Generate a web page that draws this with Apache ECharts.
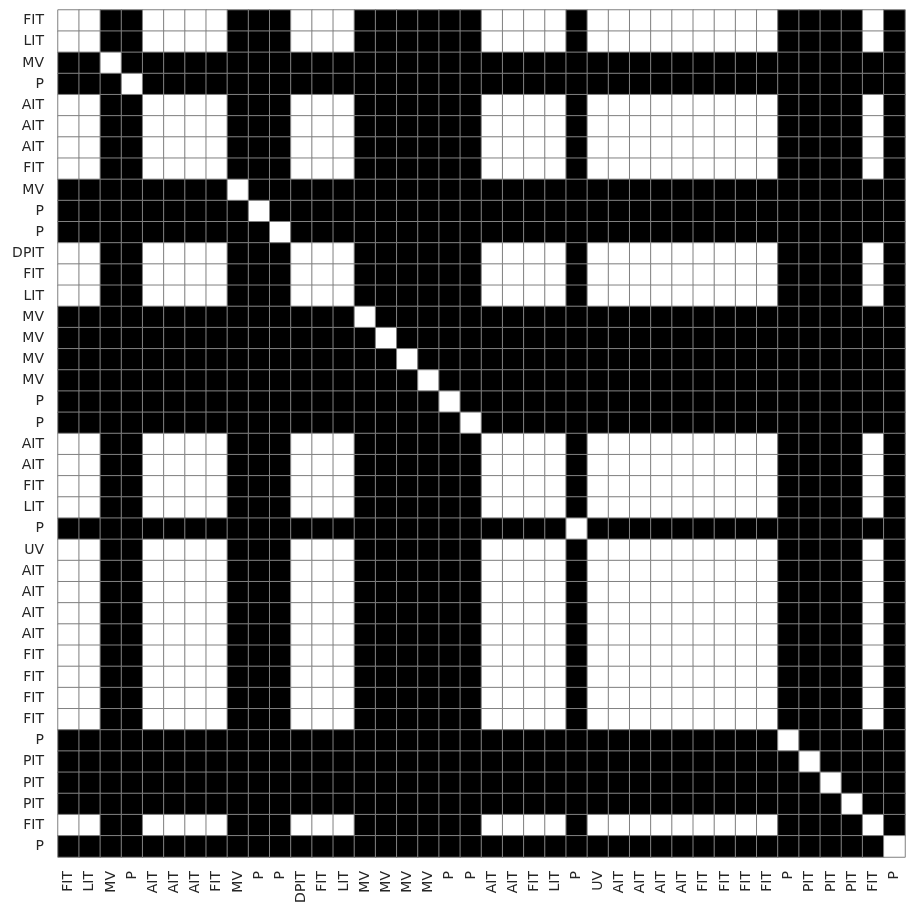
<!DOCTYPE html>
<html>
<head>
<meta charset="utf-8">
<script src="https://cdn.jsdelivr.net/npm/echarts@6/dist/echarts.min.js"></script>
<style>html,body{margin:0;padding:0;background:#fff;}#c{width:915px;height:915px;}</style>
</head>
<body>
<div id="c"></div>
<script>
const labels = ["FIT","LIT","MV","P","AIT","AIT","AIT","FIT","MV","P","P","DPIT","FIT","LIT","MV","MV","MV","MV","P","P","AIT","AIT","FIT","LIT","P","UV","AIT","AIT","AIT","AIT","FIT","FIT","FIT","FIT","P","PIT","PIT","PIT","FIT","P"];

// 1 = black cell, 0 = white cell; one string per row (top to bottom)
const matrixRows = [
"0011000011 1000111111 0000100000 0000111101",
"0011000011 1000111111 0000100000 0000111101",
"1101111111 1111111111 1111111111 1111111111",
"1110111111 1111111111 1111111111 1111111111",
"0011000011 1000111111 0000100000 0000111101",
"0011000011 1000111111 0000100000 0000111101",
"0011000011 1000111111 0000100000 0000111101",
"0011000011 1000111111 0000100000 0000111101",
"1111111101 1111111111 1111111111 1111111111",
"1111111110 1111111111 1111111111 1111111111",
"1111111111 0111111111 1111111111 1111111111",
"0011000011 1000111111 0000100000 0000111101",
"0011000011 1000111111 0000100000 0000111101",
"0011000011 1000111111 0000100000 0000111101",
"1111111111 1111011111 1111111111 1111111111",
"1111111111 1111101111 1111111111 1111111111",
"1111111111 1111110111 1111111111 1111111111",
"1111111111 1111111011 1111111111 1111111111",
"1111111111 1111111101 1111111111 1111111111",
"1111111111 1111111110 1111111111 1111111111",
"0011000011 1000111111 0000100000 0000111101",
"0011000011 1000111111 0000100000 0000111101",
"0011000011 1000111111 0000100000 0000111101",
"0011000011 1000111111 0000100000 0000111101",
"1111111111 1111111111 1111011111 1111111111",
"0011000011 1000111111 0000100000 0000111101",
"0011000011 1000111111 0000100000 0000111101",
"0011000011 1000111111 0000100000 0000111101",
"0011000011 1000111111 0000100000 0000111101",
"0011000011 1000111111 0000100000 0000111101",
"0011000011 1000111111 0000100000 0000111101",
"0011000011 1000111111 0000100000 0000111101",
"0011000011 1000111111 0000100000 0000111101",
"0011000011 1000111111 0000100000 0000111101",
"1111111111 1111111111 1111111111 1111011111",
"1111111111 1111111111 1111111111 1111101111",
"1111111111 1111111111 1111111111 1111110111",
"1111111111 1111111111 1111111111 1111111011",
"0011000011 1000111111 0000100000 0000111101",
"1111111111 1111111111 1111111111 1111111110"
];

const data = [];
matrixRows.forEach((row, r) => {
  const s = row.replace(/\s+/g, '');
  for (let c = 0; c < s.length; c++) data.push([c, r, Number(s[c])]);
});

const xCats = labels.map((l, i) => i);
const font = { fontSize: 14, color: '#262626', fontFamily: 'DejaVu Sans' };

const chart = echarts.init(document.getElementById('c'), null, { renderer: 'canvas' });
chart.setOption({
  animation: false,
  backgroundColor: '#ffffff',
  grid: { left: 58, top: 10, width: 847, height: 847 },
  xAxis: {
    type: 'category', data: xCats,
    axisLine: { show: false }, axisTick: { show: false }, splitLine: { show: false },
    axisLabel: Object.assign({}, font, { rotate: 90, margin: 14, interval: 0, formatter: (v) => labels[Number(v)] })
  },
  yAxis: {
    type: 'category', data: xCats, inverse: true,
    axisLine: { show: false }, axisTick: { show: false }, splitLine: { show: false },
    axisLabel: Object.assign({}, font, { margin: 14, interval: 0, formatter: (v) => labels[Number(v)] })
  },
  visualMap: {
    type: 'piecewise', show: false, dimension: 2,
    pieces: [{ value: 0, color: '#ffffff' }, { value: 1, color: '#000000' }]
  },
  series: [{
    type: 'heatmap', data: data,
    itemStyle: { borderColor: '#808080', borderWidth: 1 },
    emphasis: { disabled: true }
  }]
});
</script>
</body>
</html>
